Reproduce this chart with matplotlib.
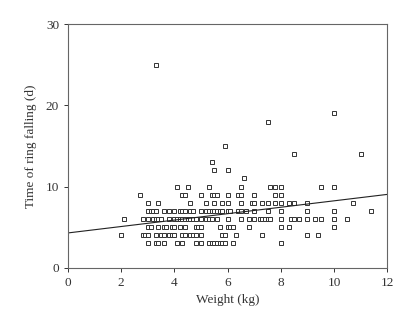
import numpy as np
import matplotlib.pyplot as plt

plt.rcParams['font.family'] = ['Liberation Serif', 'DejaVu Serif']

# points grouped by time of ring falling (d): weights (kg)
rows = {
    25: [3.3],
    19: [10.0],
    18: [7.5],
    15: [5.9],
    14: [8.5, 11.0],
    13: [5.4],
    12: [5.5, 6.0],
    11: [6.6],
    10: [4.1, 4.5, 5.3, 6.5, 7.6, 7.8, 8.0, 9.5, 10.0],
    9: [2.7, 4.3, 4.4, 5.0, 5.4, 5.5, 5.6, 6.0, 6.4, 6.5, 7.0, 7.8, 8.0],
    8: [3.0, 3.4, 4.6, 5.2, 5.5, 5.8, 6.0, 6.5, 6.9, 7.0, 7.3, 7.5, 7.8, 8.0,
        8.3, 8.5, 9.0, 10.7],
    7: [3.0, 3.1, 3.2, 3.3, 3.6, 3.8, 4.0, 4.2, 4.3, 4.4, 4.6, 4.7, 5.0, 5.2,
        5.3, 5.4, 5.5, 5.6, 5.7, 5.8, 6.0, 6.1, 6.4, 6.5, 6.7, 7.0, 7.5, 8.0,
        9.0, 10.0, 11.4],
    6: [2.1, 2.8, 3.0, 3.2, 3.3, 3.4, 3.5, 3.8, 4.0, 4.1, 4.2, 4.3, 4.4, 4.5,
        4.6, 4.7, 4.8, 5.0, 5.2, 5.3, 5.4, 5.6, 6.0, 6.5, 6.8, 7.0, 7.2, 7.3,
        7.4, 7.5, 7.6, 8.0, 8.4, 8.5, 8.7, 9.0, 9.3, 9.5, 10.0, 10.5],
    5: [3.0, 3.1, 3.4, 3.6, 3.7, 3.9, 4.0, 4.2, 4.4, 4.8, 4.9, 5.0, 5.7, 6.0,
        6.1, 6.2, 6.8, 8.0, 8.3, 10.0],
    4: [2.0, 2.8, 2.9, 3.0, 3.3, 3.5, 3.6, 3.8, 3.9, 4.0, 4.3, 4.4, 4.6, 4.7,
        4.8, 5.0, 5.8, 5.9, 6.3, 7.3, 9.0, 9.4],
    3: [3.0, 3.3, 3.4, 3.6, 4.1, 4.3, 4.8, 5.0, 5.3, 5.4, 5.5, 5.6, 5.7, 5.8,
        5.9, 6.2, 8.0],
}
weight = np.array([w for d, ws in rows.items() for w in ws])
days = np.array([d for d, ws in rows.items() for w in ws])

# regression line as drawn
line_intercept = 4.3
line_slope = 0.395
line_x = np.array([0, 12])

fig = plt.figure(figsize=(4.15, 3.17), dpi=100)
ax = fig.add_axes([0.164, 0.155, 0.769, 0.769])

ax.plot(weight, days, 's', markersize=3.0, markerfacecolor='white',
        markeredgecolor='#333333', markeredgewidth=0.7, linestyle='none')
ax.plot(line_x, line_intercept + line_slope * line_x, color='#222222', linewidth=0.8)

ax.set_xlim(0, 12)
ax.set_ylim(0, 30)
ax.set_xticks(range(0, 13, 2))
ax.set_yticks([0, 10, 20, 30])
ax.set_xlabel('Weight (kg)', fontsize=9.5, color='#333333', labelpad=4)
ax.set_ylabel('Time of ring falling (d)', fontsize=9.5, color='#333333', labelpad=6)
ax.tick_params(labelsize=9.5, colors='#333333', length=3, width=0.7, direction='out')
for s in ax.spines.values():
    s.set_color('#666666')
    s.set_linewidth(0.8)

fig.savefig('out.png', dpi=100)
